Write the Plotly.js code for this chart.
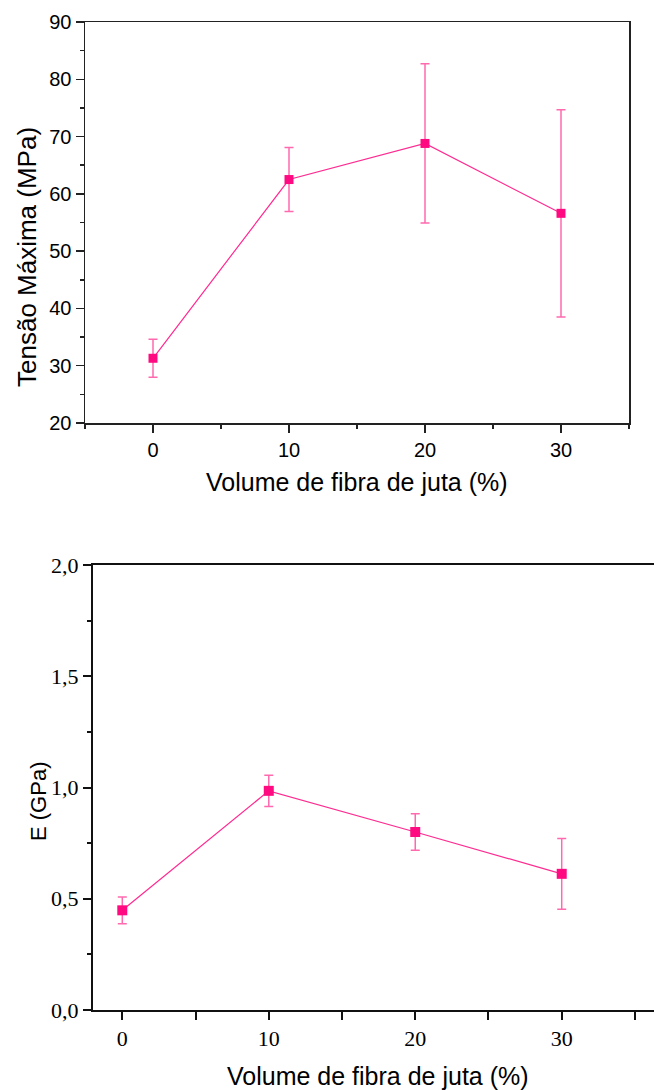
<!DOCTYPE html>
<html>
<head>
<meta charset="utf-8">
<script src="https://cdn.plot.ly/plotly-3.0.1.min.js"></script>
<style>
html,body{margin:0;padding:0;background:#fff;overflow:hidden;}
#chart{width:654px;height:1090px;}
</style>
</head>
<body>
<div id="chart"></div>
<script>
// Data
var volume = [0, 10, 20, 30];
var tensao = [31.3, 62.5, 68.8, 56.6];
var tensaoErr = [3.3, 5.6, 13.9, 18.1];
var modulo = [0.448, 0.985, 0.80, 0.612];
var moduloErr = [0.06, 0.07, 0.082, 0.159];
var xTitle = 'Volume de fibra de juta (%)';
var yTitleTop = 'Tensão Máxima (MPa)';
var yTitleBottom = 'E (GPa)';

var W = 654, H = 1090;
function px(x){ return x / W; }
function py(y){ return 1 - y / H; }

var markerColor = '#FF0A80';
var lineColor = '#FF2A90';
var errColor = '#FF6AAE';
var sans = 'Liberation Sans, Arial, sans-serif';
var serif = 'Liberation Serif, Times New Roman, serif';

var traces = [
  {
    x: volume, y: tensao, xaxis: 'x', yaxis: 'y',
    type: 'scatter', mode: 'lines+markers',
    line: {color: lineColor, width: 1.2},
    marker: {symbol: 'square', size: 9, color: markerColor},
    error_y: {type: 'data', array: tensaoErr, visible: true, color: errColor, thickness: 1.5, width: 4.5}
  },
  {
    x: volume, y: modulo, xaxis: 'x2', yaxis: 'y2',
    type: 'scatter', mode: 'lines+markers',
    line: {color: lineColor, width: 1.2},
    marker: {symbol: 'square', size: 10, color: markerColor},
    error_y: {type: 'data', array: moduloErr, visible: true, color: errColor, thickness: 1.5, width: 4.5}
  }
];

var layout = {
  width: W, height: H,
  margin: {l: 0, r: 0, t: 0, b: 0},
  paper_bgcolor: '#fff', plot_bgcolor: '#fff',
  showlegend: false,
  separators: ',.',
  xaxis: {
    domain: [px(85), px(629)], anchor: 'y',
    range: [-5, 35], tickvals: [0, 10, 20, 30], ticktext: ['0','10','20','30'],
    showgrid: false, zeroline: false,
    showline: true, linecolor: '#222', linewidth: 1.5, mirror: true,
    ticks: 'outside', ticklen: 8, tickwidth: 1.5, tickcolor: '#222',
    minor: {tickvals: [-5, 5, 15, 25, 35], ticks: 'outside', ticklen: 4, tickwidth: 1.5, tickcolor: '#222'},
    tickfont: {family: sans, size: 20, color: '#000'}
  },
  yaxis: {
    domain: [py(423), py(22)], anchor: 'x',
    range: [20, 90], dtick: 10, tick0: 20,
    showgrid: false, zeroline: false,
    showline: true, linecolor: '#222', linewidth: 1.5, mirror: true,
    ticks: 'outside', ticklen: 8, tickwidth: 1.5, tickcolor: '#222',
    minor: {dtick: 5, ticks: 'outside', ticklen: 4, tickwidth: 1.5, tickcolor: '#222'},
    tickfont: {family: sans, size: 20, color: '#000'}
  },
  xaxis2: {
    domain: [px(93), 1], anchor: 'y2',
    range: [-2, 36.3], tickvals: [0, 10, 20, 30], ticktext: ['0','10','20','30'],
    showgrid: false, zeroline: false,
    showline: true, linecolor: '#111', linewidth: 2, mirror: true,
    ticks: 'outside', ticklen: 8, tickwidth: 2, tickcolor: '#111',
    minor: {tickvals: [5, 15, 25, 35], ticks: 'outside', ticklen: 8, tickwidth: 2, tickcolor: '#111'},
    tickfont: {family: serif, size: 22, color: '#000'}
  },
  yaxis2: {
    domain: [py(1010), py(565)], anchor: 'x2',
    range: [0, 2], dtick: 0.5, tick0: 0, tickformat: '.1f',
    showgrid: false, zeroline: false,
    showline: true, linecolor: '#111', linewidth: 2, mirror: false,
    ticks: 'outside', ticklen: 8, tickwidth: 2, tickcolor: '#111',
    minor: {dtick: 0.25, ticks: 'outside', ticklen: 4, tickwidth: 2, tickcolor: '#111'},
    tickfont: {family: serif, size: 22, color: '#000'}
  },
  annotations: [
    {text: xTitle, xref: 'paper', yref: 'paper', x: px(357), y: py(482), xanchor: 'center', yanchor: 'middle', showarrow: false, font: {family: sans, size: 25, color: '#000'}},
    {text: yTitleTop, xref: 'paper', yref: 'paper', x: px(27), y: py(257), xanchor: 'center', yanchor: 'middle', textangle: -90, showarrow: false, font: {family: sans, size: 26, color: '#000'}},
    {text: xTitle, xref: 'paper', yref: 'paper', x: px(378), y: py(1076), xanchor: 'center', yanchor: 'middle', showarrow: false, font: {family: sans, size: 25, color: '#000'}},
    {text: yTitleBottom, xref: 'paper', yref: 'paper', x: px(38), y: py(802), xanchor: 'center', yanchor: 'middle', textangle: -90, showarrow: false, font: {family: sans, size: 22, color: '#000'}}
  ]
};

Plotly.newPlot('chart', traces, layout, {displayModeBar: false, staticPlot: true});
</script>
</body>
</html>
